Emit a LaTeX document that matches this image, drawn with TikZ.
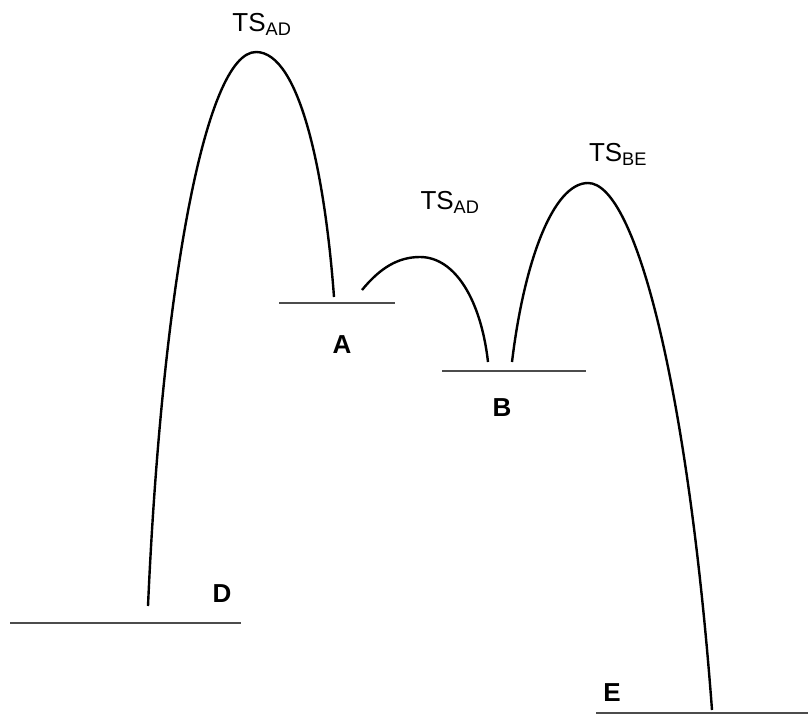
\documentclass[tikz,border=0pt]{standalone}
\usepackage{fontspec}
\setmainfont{Liberation Sans}
\usepackage{tikz}
\usetikzlibrary{positioning,calc}
\tikzset{
  % niveaus
  lvl/.style={draw=black!70,line width=2.8pt},
  lvlname/.style={font=\fontsize{26}{28}\selectfont\bfseries,inner sep=0pt},
  % overgangstoestanden
  barrier/.style={draw=black,line width=2.4pt},
  tsname/.style={font=\fontsize{26}{29}\selectfont,inner sep=0pt},
}

\begin{document}
\begin{tikzpicture}[x=1pt,y=-1pt]
  \useasboundingbox (0,0) rectangle (808,715);
  % niveaus
  \coordinate (dL) at (10,623);  \coordinate (dR) at (241,623);
  \coordinate (aL) at (279,303); \coordinate (aR) at (395,303);
  \coordinate (bL) at (442,371); \coordinate (bR) at (586,371);
  \coordinate (eL) at (596,713); \coordinate (eR) at (808,713);
  \draw[lvl] (dL) -- (dR);
  \draw[lvl] (aL) -- (aR);
  \draw[lvl] (bL) -- (bR);
  \draw[lvl] (eL) -- (eR);
  \node[lvlname] (D) at (222,594) {D};
  \node[lvlname] (A) at (342,345) {A};
  \node[lvlname] (B) at (502,408) {B};
  \node[lvlname] (E) at (612,693) {E};
  % toppen
  \coordinate (ts1) at (256,52);
  \coordinate (ts2) at (420,257);
  \coordinate (ts3) at (588,183);
  \coordinate (d1) at (148,606); \coordinate (a1) at (334,297);
  \coordinate (a2) at (362,290); \coordinate (b2) at (488,362);
  \coordinate (b3) at (512,362); \coordinate (e3) at (712,710);
  \draw[barrier] (d1) .. controls (162,290) and (205,52) .. (ts1)
                      .. controls (300,52) and (325,175) .. (a1);
  \draw[barrier] (a2) .. controls (380,268) and (398,257) .. (ts2)
                      .. controls (455,257) and (481,300) .. (b2);
  \draw[barrier] (b3) .. controls (524,262) and (553,183) .. (ts3)
                      .. controls (636,183) and (688,390) .. (e3);
  \node[tsname] (tsAD) at (262,24) {TS\textsubscript{AD}};
  \node[tsname] (tsAB) at (450,202) {TS\textsubscript{AD}};
  \node[tsname] (tsBE) at (618,154) {TS\textsubscript{BE}};
\end{tikzpicture}
\end{document}
